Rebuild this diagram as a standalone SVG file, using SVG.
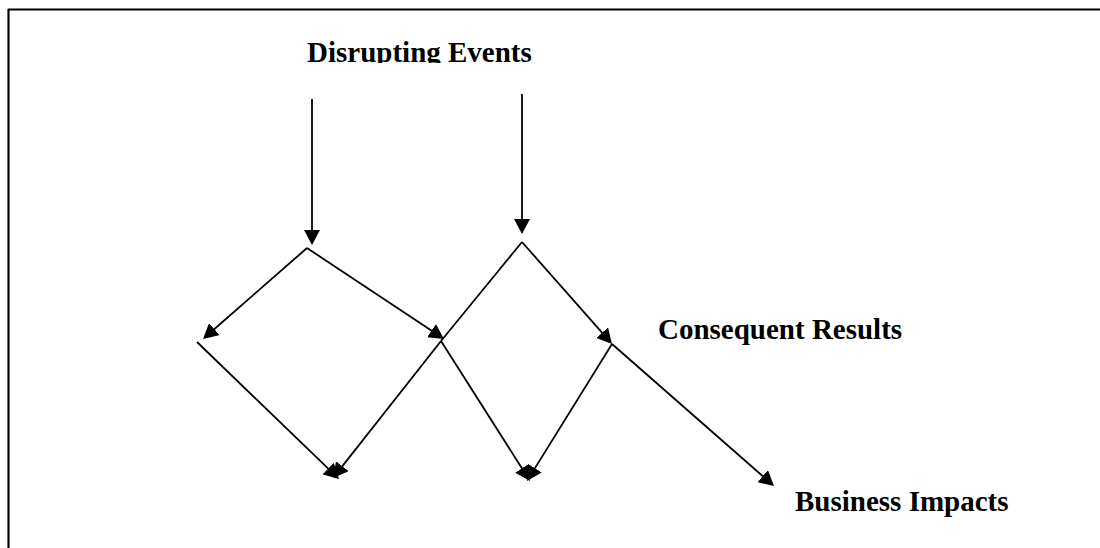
<svg xmlns="http://www.w3.org/2000/svg" width="1100" height="548" viewBox="0 0 1100 548">
<style>
.lbl{font-family:"Liberation Serif","Times New Roman",serif;font-weight:bold;font-size:29px;fill:#000}
.c line{stroke:#000;stroke-width:1.8;fill:none}
.a{marker-end:url(#ah)}
</style>
<defs>
<marker id="ah" viewBox="0 0 15 16" refX="12" refY="8" markerWidth="15" markerHeight="16" markerUnits="userSpaceOnUse" orient="auto">
<path d="M0,0 L15,8 L0,16 z" fill="#000"/>
</marker>
<clipPath id="clipTop"><rect x="0" y="0" width="1100" height="63"/></clipPath>
</defs>
<rect width="1100" height="548" fill="#fff"/>
<g id="frame" stroke="#000" stroke-width="2.2" fill="none">
<line x1="8" y1="9.5" x2="1100" y2="9.5"/>
<line x1="8.5" y1="9" x2="8.5" y2="548"/>
</g>
<g id="disrupting-events"><text class="lbl" x="307" y="62" clip-path="url(#clipTop)">Disrupting Events</text></g>
<g id="consequent-results"><text class="lbl" x="658" y="339">Consequent Results</text></g>
<g id="business-impacts"><text class="lbl" x="795" y="511">Business Impacts</text></g>
<g id="connectors" class="c">
<line class="a" x1="312" y1="99" x2="312" y2="242"/>
<line class="a" x1="522" y1="94" x2="522" y2="231"/>
<line class="a" x1="307" y1="248" x2="205.3" y2="337"/>
<line class="a" x1="307" y1="248" x2="441.5" y2="337.3"/>
<line x1="522" y1="242" x2="441" y2="341"/>
<line class="a" x1="197" y1="342" x2="336.8" y2="476.9"/>
<line class="a" x1="441" y1="341" x2="334.9" y2="475.6"/>
<line class="a" x1="441" y1="341" x2="528.4" y2="478.5"/>
<line class="a" x1="522" y1="242" x2="610" y2="341.7"/>
<line class="a" x1="612" y1="344" x2="528.6" y2="478.4"/>
<line class="a" x1="612" y1="344" x2="771.7" y2="484"/>
</g>
</svg>
